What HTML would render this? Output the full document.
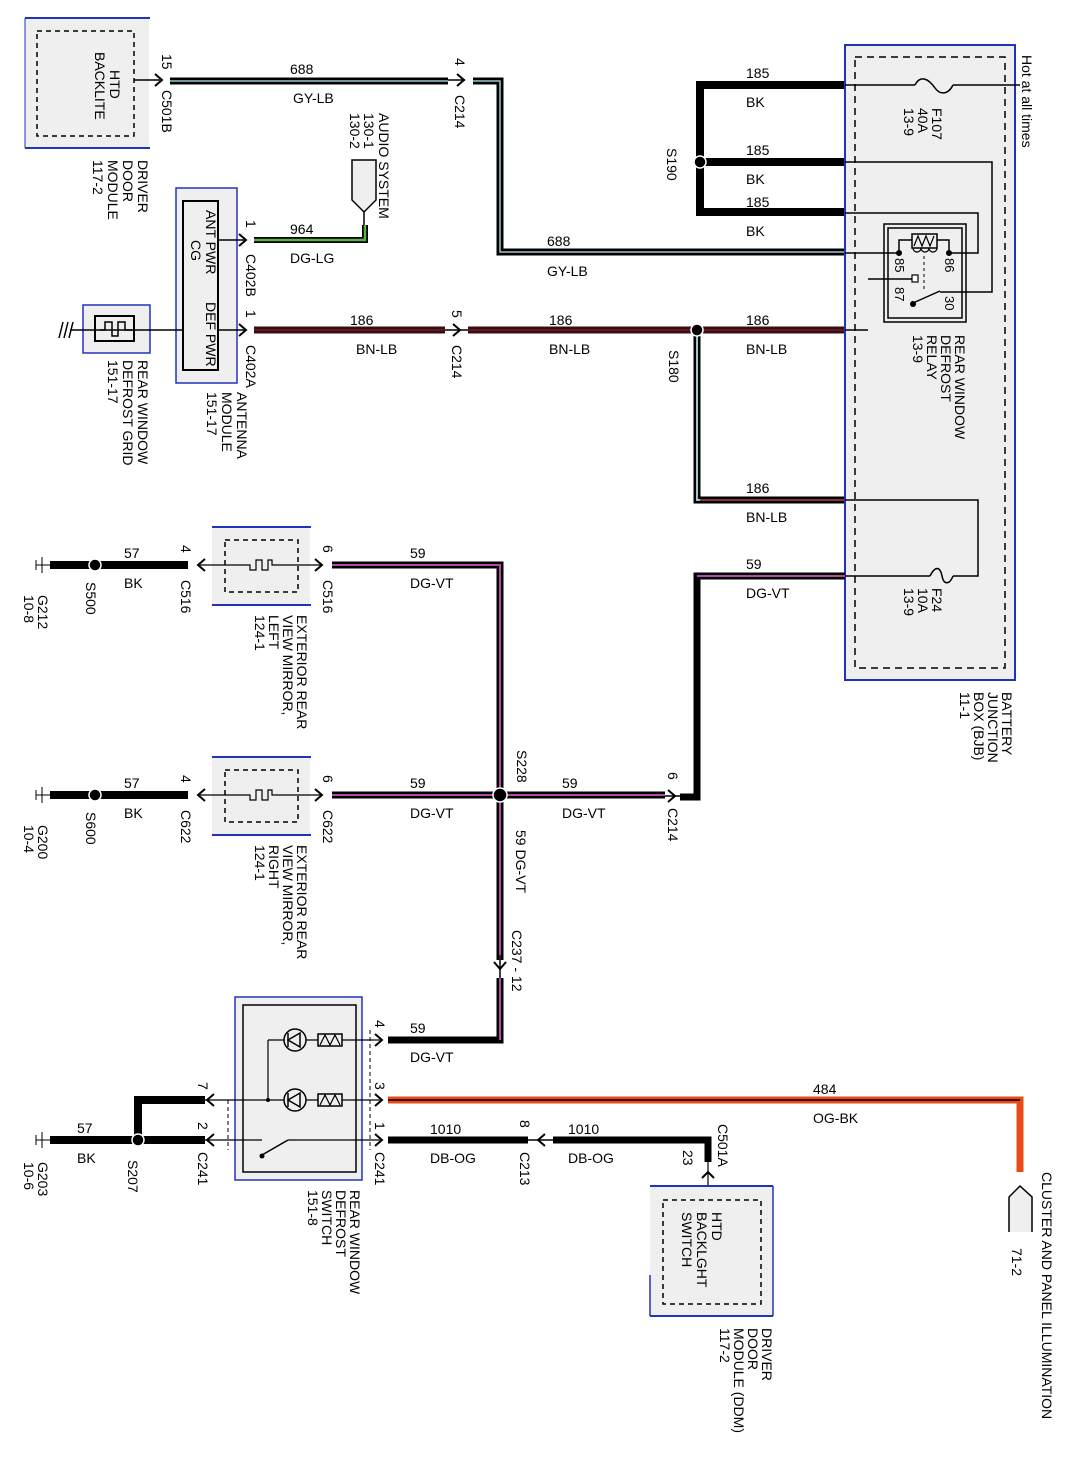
<!DOCTYPE html>
<html><head><meta charset="utf-8"><style>
html,body{margin:0;padding:0;background:#fff;}
svg{display:block;}
text{font-family:"Liberation Sans",Arial,sans-serif;font-size:14px;fill:#000;}
</style></head><body>
<svg width="1068" height="1458" viewBox="0 0 1068 1458" xmlns="http://www.w3.org/2000/svg">
<defs>
<path id="arR" d="M-7,-6 L0,0 L-7,6" fill="none" stroke="#000" stroke-width="2"/>
<path id="arL" d="M7,-6 L0,0 L7,6" fill="none" stroke="#000" stroke-width="2"/>
</defs>

<!-- HTD BACKLITE box -->
<rect x="25" y="18" width="124" height="130" fill="#efeff0"/>
<line x1="25" y1="18" x2="150" y2="18" stroke="#2233bb" stroke-width="2"/>
<line x1="25" y1="148" x2="150" y2="148" stroke="#2233bb" stroke-width="2"/>
<line x1="25" y1="18" x2="25" y2="148" stroke="#2233bb" stroke-width="1"/>
<rect x="37" y="31" width="97" height="105" fill="none" stroke="#000" stroke-width="1.5" stroke-dasharray="5,4"/>
<text transform="translate(110,52) rotate(90)"><tspan x="18" y="0">HTD</tspan><tspan x="0" dy="15">BACKLITE</tspan></text>
<text transform="translate(138,160) rotate(90)"><tspan x="0" y="0">DRIVER</tspan><tspan x="0" dy="15">DOOR</tspan><tspan x="0" dy="15">MODULE</tspan><tspan x="0" dy="15">117-2</tspan></text>

<!-- 688 wire -->
<line x1="134" y1="80" x2="160" y2="80" stroke="#000" stroke-width="1.5"/>
<use href="#arR" x="162" y="80"/>
<text transform="translate(162,54) rotate(90)">15</text>
<text transform="translate(162,90) rotate(90)">C501B</text>
<line x1="170" y1="81" x2="448" y2="81" stroke="#000" stroke-width="7"/>
<line x1="170" y1="81" x2="448" y2="81" stroke="#9cc8d4" stroke-width="1.5"/>
<text x="290" y="74">688</text>
<text x="293" y="103">GY-LB</text>
<line x1="448" y1="80" x2="465" y2="80" stroke="#000" stroke-width="1.5"/>
<use href="#arR" x="464" y="80"/>
<text transform="translate(455,58) rotate(90)">4</text>
<text transform="translate(455,95) rotate(90)">C214</text>
<path d="M473,81 L500,81 L500,252 L845,252" fill="none" stroke="#000" stroke-width="7"/>
<path d="M473,81 L500,81 L500,252 L845,252" fill="none" stroke="#9cc8d4" stroke-width="1.5"/>
<text x="547" y="246">688</text>
<text x="547" y="276">GY-LB</text>

<!-- 185 BK -->
<path d="M845,85 L700,85 L700,212 L845,212" fill="none" stroke="#000" stroke-width="8"/>
<line x1="700" y1="162" x2="845" y2="162" stroke="#000" stroke-width="8"/>
<circle cx="700" cy="162" r="6" fill="#000" stroke="#fff" stroke-width="1.5"/>
<text transform="translate(667,148) rotate(90)">S190</text>
<text x="746" y="78">185</text><text x="746" y="107">BK</text>
<text x="746" y="155">185</text><text x="746" y="184">BK</text>
<text x="746" y="207">185</text><text x="746" y="236">BK</text>

<!-- Antenna module -->
<rect x="176" y="188" width="61" height="195" fill="#efeff0" stroke="#2233bb" stroke-width="1.5"/>
<rect x="183" y="201" width="35" height="169" fill="none" stroke="#000" stroke-width="2"/>
<text transform="translate(206,210) rotate(90)">ANT PWR</text>
<text transform="translate(191,240) rotate(90)">CG</text>
<text transform="translate(206,302) rotate(90)">DEF PWR</text>
<text transform="translate(237,392) rotate(90)"><tspan x="0" y="0">ANTENNA</tspan><tspan x="0" dy="15">MODULE</tspan><tspan x="0" dy="15">151-17</tspan></text>
<line x1="218" y1="240" x2="245" y2="240" stroke="#000" stroke-width="1.5"/>
<use href="#arR" x="246" y="240"/>
<text transform="translate(246,220) rotate(90)">1</text>
<text transform="translate(246,254) rotate(90)">C402B</text>
<path d="M254,240 L365,240 L365,225" fill="none" stroke="#000" stroke-width="6"/>
<path d="M254,240 L365,240 L365,225" fill="none" stroke="#5cb04a" stroke-width="2.5"/>
<text x="290" y="234">964</text>
<text x="290" y="263">DG-LG</text>
<line x1="364" y1="225" x2="364" y2="210" stroke="#000" stroke-width="1.5"/>
<path d="M352,160 L376,160 L376,200 L364,212 L352,200 Z" fill="#efeff0" stroke="#000" stroke-width="1.5"/>
<text transform="translate(379,113) rotate(90)">AUDIO SYSTEM</text>
<text transform="translate(364,113) rotate(90)"><tspan x="0" y="0">130-1</tspan><tspan x="0" dy="14">130-2</tspan></text>

<!-- rear window grid -->
<rect x="83" y="305" width="67" height="48" fill="#efeff0" stroke="#2233bb" stroke-width="1.5"/>
<rect x="95" y="316" width="39" height="25" fill="none" stroke="#000" stroke-width="2"/>
<path d="M100,330 L105,330 L105,322 L112,322 L112,336 L118,336 L118,322 L125,322 L125,330 L132,330" fill="none" stroke="#000" stroke-width="1.5"/>
<line x1="70" y1="330" x2="183" y2="330" stroke="#000" stroke-width="1.5"/>
<line x1="218" y1="330" x2="245" y2="330" stroke="#000" stroke-width="1.5"/>
<path d="M68,322 L64,338 M63,322 L59,338 M73,322 L69,338" stroke="#000" stroke-width="1.5"/>
<text transform="translate(138,360) rotate(90)"><tspan x="0" y="0">REAR WINDOW</tspan><tspan x="0" dy="15">DEFROST GRID</tspan><tspan x="0" dy="15">151-17</tspan></text>

<!-- 186 BN-LB -->
<use href="#arR" x="246" y="330"/>
<text transform="translate(246,310) rotate(90)">1</text>
<text transform="translate(246,345) rotate(90)">C402A</text>
<line x1="254" y1="330" x2="445" y2="330" stroke="#3a0d12" stroke-width="7"/>
<line x1="254" y1="330" x2="445" y2="330" stroke="#5a1a22" stroke-width="2"/>
<text x="350" y="325">186</text><text x="356" y="354">BN-LB</text>
<line x1="445" y1="330" x2="470" y2="330" stroke="#000" stroke-width="1.5"/>
<use href="#arR" x="460" y="330"/>
<text transform="translate(452,310) rotate(90)">5</text>
<text transform="translate(452,345) rotate(90)">C214</text>
<line x1="468" y1="330" x2="845" y2="330" stroke="#3a0d12" stroke-width="7"/>
<line x1="468" y1="330" x2="845" y2="330" stroke="#5a1a22" stroke-width="2"/>
<text x="549" y="325">186</text><text x="549" y="354">BN-LB</text>
<text x="746" y="325">186</text><text x="746" y="354">BN-LB</text>
<path d="M697,330 L697,500 L845,500" fill="none" stroke="#000" stroke-width="7"/>
<path d="M697,336 L697,500 L845,500" fill="none" stroke="#9cc8d4" stroke-width="2"/>
<line x1="700" y1="500" x2="845" y2="500" stroke="#8a3030" stroke-width="2"/>
<circle cx="697" cy="330" r="6" fill="#000" stroke="#fff" stroke-width="1.5"/>
<text transform="translate(669,350) rotate(90)">S180</text>
<text x="746" y="493">186</text><text x="746" y="522">BN-LB</text>

<!-- BJB -->
<rect x="845" y="45" width="170" height="635" fill="#efeff0"/>
<rect x="845" y="45" width="170" height="635" fill="none" stroke="#2233bb" stroke-width="2"/>
<rect x="855" y="57" width="150" height="611" fill="none" stroke="#000" stroke-width="1.5" stroke-dasharray="7,5"/>
<line x1="845" y1="85" x2="915" y2="85" stroke="#000" stroke-width="1.5"/>
<path d="M915,85 C920,75 928,78 935,88 C940,95 948,95 953,85" fill="none" stroke="#000" stroke-width="1.5"/>
<line x1="953" y1="85" x2="1020" y2="85" stroke="#000" stroke-width="1.5"/>
<text transform="translate(1022,55) rotate(90)">Hot at all times</text>
<text transform="translate(932,108) rotate(90)"><tspan x="0" y="0">F107</tspan><tspan x="0" dy="14">40A</tspan><tspan x="0" dy="14">13-9</tspan></text>
<path d="M845,162 L992,162 L992,292 L940,292" fill="none" stroke="#000" stroke-width="1.5"/>
<path d="M845,213 L978,213 L978,253 L949,253" fill="none" stroke="#000" stroke-width="1.5"/>
<line x1="845" y1="253" x2="899" y2="253" stroke="#000" stroke-width="1.5"/>
<rect x="884" y="224" width="82" height="98" fill="none" stroke="#000" stroke-width="1.5"/>
<rect x="888" y="228" width="74" height="90" fill="none" stroke="#000" stroke-width="1.5"/>
<path d="M899,253 L899,240 L912,240 M937,240 L949,240 L949,253" fill="none" stroke="#000" stroke-width="1.5"/>
<rect x="912" y="234" width="25" height="14" fill="none" stroke="#000" stroke-width="1.5"/>
<path d="M914,246 L918,236 L922,246 L926,236 L930,246 L934,236" fill="none" stroke="#000" stroke-width="1.2"/>
<path d="M913,248 a4,4 0 0 0 8,0 a4,4 0 0 0 8,0 a4,4 0 0 0 8,0" fill="none" stroke="#000" stroke-width="1.2"/>
<circle cx="899" cy="253" r="3" fill="#000"/><circle cx="949" cy="253" r="3" fill="#000"/>
<line x1="924" y1="256" x2="924" y2="290" stroke="#000" stroke-width="1" stroke-dasharray="3,3"/>
<line x1="868" y1="279" x2="912" y2="279" stroke="#000" stroke-width="1.5"/>
<rect x="912" y="275" width="6" height="7" fill="#fff" stroke="#000" stroke-width="1.2"/>
<path d="M913,303 L940,291" stroke="#000" stroke-width="1.5"/>
<circle cx="913" cy="304" r="3" fill="#000"/>
<text transform="translate(895,258) rotate(90)" style="font-size:13px">85</text>
<text transform="translate(895,287) rotate(90)" style="font-size:13px">87</text>
<text transform="translate(945,258) rotate(90)" style="font-size:13px">86</text>
<text transform="translate(945,296) rotate(90)" style="font-size:13px">30</text>
<line x1="845" y1="330" x2="868" y2="330" stroke="#000" stroke-width="1.5"/>
<text transform="translate(955,335) rotate(90)"><tspan x="0" y="0">REAR WINDOW</tspan><tspan x="0" dy="14">DEFROST</tspan><tspan x="0" dy="14">RELAY</tspan><tspan x="0" dy="14">13-9</tspan></text>
<path d="M845,500 L978,500 L978,576 L953,576" fill="none" stroke="#000" stroke-width="1.5"/>
<line x1="845" y1="576" x2="930" y2="576" stroke="#000" stroke-width="1.5"/>
<path d="M930,576 C935,566 940,566 942,576 C944,586 950,584 953,576" fill="none" stroke="#000" stroke-width="1.5"/>
<text transform="translate(932,588) rotate(90)"><tspan x="0" y="0">F24</tspan><tspan x="0" dy="14">10A</tspan><tspan x="0" dy="14">13-9</tspan></text>
<text transform="translate(1002,692) rotate(90)"><tspan x="0" y="0">BATTERY</tspan><tspan x="0" dy="14">JUNCTION</tspan><tspan x="0" dy="14">BOX (BJB)</tspan><tspan x="0" dy="14">11-1</tspan></text>

<!-- 59 DG-VT -->
<path d="M845,576 L697,576 L697,797 L680,797" fill="none" stroke="#000" stroke-width="7"/>
<line x1="697" y1="576" x2="845" y2="576" stroke="#b04aa8" stroke-width="2"/>
<text x="746" y="569">59</text><text x="746" y="598">DG-VT</text>
<line x1="665" y1="796" x2="680" y2="796" stroke="#000" stroke-width="1.5"/>
<use href="#arR" x="675" y="796"/>
<text transform="translate(668,772) rotate(90)">6</text>
<text transform="translate(668,808) rotate(90)">C214</text>

<!-- mirrors -->
<g id="mirL">
<rect x="212" y="527" width="98" height="78" fill="#efeff0"/>
<line x1="212" y1="527" x2="311" y2="527" stroke="#2233bb" stroke-width="2"/>
<line x1="212" y1="605" x2="311" y2="605" stroke="#2233bb" stroke-width="2"/>
<rect x="225" y="540" width="73" height="52" fill="none" stroke="#000" stroke-width="1.5" stroke-dasharray="5,4"/>
<path d="M200,565 L250,565 L250,570 L256,570 L256,560 L262,560 L262,570 L268,570 L268,560 L272,560 L272,565 L322,565" fill="none" stroke="#000" stroke-width="1.2"/>
</g>
<use href="#mirL" y="230"/>
<use href="#arL" x="198" y="565"/><use href="#arR" x="322" y="565"/>
<use href="#arL" x="198" y="795"/><use href="#arR" x="322" y="795"/>
<line x1="50" y1="565" x2="188" y2="565" stroke="#000" stroke-width="8"/>
<line x1="50" y1="795" x2="188" y2="795" stroke="#000" stroke-width="8"/>
<circle cx="95" cy="565" r="6" fill="#000" stroke="#fff" stroke-width="1.5"/>
<circle cx="95" cy="795" r="6" fill="#000" stroke="#fff" stroke-width="1.5"/>
<path d="M42,557 L42,573 M36,560 L36,570 M36,565 L50,565" stroke="#000" stroke-width="1"/>
<path d="M42,787 L42,803 M36,790 L36,800 M36,795 L50,795" stroke="#000" stroke-width="1"/>
<text x="124" y="558">57</text><text x="124" y="588">BK</text>
<text x="124" y="788">57</text><text x="124" y="818">BK</text>
<text transform="translate(86,582) rotate(90)">S500</text>
<text transform="translate(86,812) rotate(90)">S600</text>
<text transform="translate(38,595) rotate(90)"><tspan x="0" y="0">G212</tspan><tspan x="0" dy="14">10-8</tspan></text>
<text transform="translate(38,825) rotate(90)"><tspan x="0" y="0">G200</tspan><tspan x="0" dy="14">10-4</tspan></text>
<text transform="translate(181,545) rotate(90)">4</text><text transform="translate(181,580) rotate(90)">C516</text>
<text transform="translate(181,775) rotate(90)">4</text><text transform="translate(181,810) rotate(90)">C622</text>
<text transform="translate(323,545) rotate(90)">6</text><text transform="translate(323,580) rotate(90)">C516</text>
<text transform="translate(323,775) rotate(90)">6</text><text transform="translate(323,810) rotate(90)">C622</text>
<text transform="translate(297,615) rotate(90)"><tspan x="0" y="0">EXTERIOR REAR</tspan><tspan x="0" dy="14">VIEW MIRROR,</tspan><tspan x="0" dy="14">LEFT</tspan><tspan x="0" dy="14">124-1</tspan></text>
<text transform="translate(297,845) rotate(90)"><tspan x="0" y="0">EXTERIOR REAR</tspan><tspan x="0" dy="14">VIEW MIRROR,</tspan><tspan x="0" dy="14">RIGHT</tspan><tspan x="0" dy="14">124-1</tspan></text>

<path d="M332,565 L500,565 L500,960" fill="none" stroke="#000" stroke-width="7"/>
<path d="M332,565 L500,565 L500,960" fill="none" stroke="#b04aa8" stroke-width="2"/>
<line x1="332" y1="795" x2="665" y2="795" stroke="#000" stroke-width="7"/>
<line x1="332" y1="795" x2="665" y2="795" stroke="#b04aa8" stroke-width="2"/>
<circle cx="500" cy="795" r="7" fill="#000" stroke="#fff" stroke-width="1.5"/>
<text x="410" y="558">59</text><text x="410" y="588">DG-VT</text>
<text x="410" y="788">59</text><text x="410" y="818">DG-VT</text>
<text x="562" y="788">59</text><text x="562" y="818">DG-VT</text>
<text transform="translate(517,750) rotate(90)">S228</text>
<text transform="translate(516,830) rotate(90)">59  DG-VT</text>
<line x1="500" y1="955" x2="500" y2="985" stroke="#000" stroke-width="1.5"/>
<path d="M494,962 L500,969 L506,962" fill="none" stroke="#000" stroke-width="2"/>
<text transform="translate(512,930) rotate(90)">C237 - 12</text>
<path d="M500,978 L500,1040 L388,1040" fill="none" stroke="#000" stroke-width="7"/>
<path d="M500,978 L500,1040" fill="none" stroke="#b04aa8" stroke-width="2"/>
<text x="410" y="1033">59</text><text x="410" y="1062">DG-VT</text>

<!-- switch -->
<rect x="235" y="997" width="127" height="183" fill="#efeff0" stroke="#2233bb" stroke-width="1.5"/>
<rect x="243" y="1005" width="113" height="167" fill="none" stroke="#000" stroke-width="1.5"/>
<line x1="370" y1="1030" x2="370" y2="1150" stroke="#000" stroke-width="1" stroke-dasharray="4,3"/>
<line x1="228" y1="1100" x2="228" y2="1150" stroke="#000" stroke-width="1" stroke-dasharray="4,3"/>
<line x1="268" y1="1040" x2="380" y2="1040" stroke="#000" stroke-width="1.2"/>
<line x1="205" y1="1100" x2="380" y2="1100" stroke="#000" stroke-width="1.2"/>
<line x1="268" y1="1040" x2="268" y2="1100" stroke="#000" stroke-width="1.2"/>
<circle cx="268" cy="1100" r="2" fill="#000"/>
<circle cx="295" cy="1040" r="11" fill="#efeff0" stroke="#000" stroke-width="1.5"/>
<path d="M288,1040 L300,1033 L300,1047 Z M288,1033 L288,1047" fill="none" stroke="#000" stroke-width="1.5"/>
<circle cx="295" cy="1100" r="11" fill="#efeff0" stroke="#000" stroke-width="1.5"/>
<path d="M288,1100 L300,1093 L300,1107 Z M288,1093 L288,1107" fill="none" stroke="#000" stroke-width="1.5"/>
<rect x="318" y="1034" width="24" height="12" fill="#efeff0" stroke="#000" stroke-width="1.5"/>
<path d="M320,1045 L325,1035 L330,1045 L335,1035 L340,1045" fill="none" stroke="#000" stroke-width="1.2"/>
<rect x="318" y="1094" width="24" height="12" fill="#efeff0" stroke="#000" stroke-width="1.5"/>
<path d="M320,1105 L325,1095 L330,1105 L335,1095 L340,1105" fill="none" stroke="#000" stroke-width="1.2"/>
<line x1="205" y1="1140" x2="262" y2="1140" stroke="#000" stroke-width="1.2"/>
<line x1="288" y1="1140" x2="380" y2="1140" stroke="#000" stroke-width="1.2"/>
<path d="M262,1155 L288,1140" stroke="#000" stroke-width="1.5"/>
<circle cx="262" cy="1156" r="2.5" fill="#000"/>
<use href="#arL" x="207" y="1100"/><use href="#arL" x="207" y="1140"/>
<use href="#arR" x="382" y="1040"/><use href="#arR" x="382" y="1100"/><use href="#arR" x="382" y="1140"/>
<text transform="translate(375,1020) rotate(90)">4</text>
<text transform="translate(375,1082) rotate(90)">3</text>
<text transform="translate(375,1122) rotate(90)">1</text>
<text transform="translate(375,1152) rotate(90)">C241</text>
<text transform="translate(198,1082) rotate(90)">7</text>
<text transform="translate(198,1122) rotate(90)">2</text>
<text transform="translate(198,1152) rotate(90)">C241</text>
<text transform="translate(350,1190) rotate(90)"><tspan x="0" y="0">REAR WINDOW</tspan><tspan x="0" dy="14">DEFROST</tspan><tspan x="0" dy="14">SWITCH</tspan><tspan x="0" dy="14">151-8</tspan></text>

<path d="M205,1100 L138,1100 L138,1140" fill="none" stroke="#000" stroke-width="8"/>
<line x1="50" y1="1140" x2="205" y2="1140" stroke="#000" stroke-width="8"/>
<circle cx="138" cy="1140" r="6" fill="#000" stroke="#fff" stroke-width="1.5"/>
<path d="M42,1132 L42,1148 M36,1135 L36,1145 M36,1140 L50,1140" stroke="#000" stroke-width="1"/>
<text x="77" y="1133">57</text><text x="77" y="1163">BK</text>
<text transform="translate(128,1160) rotate(90)">S207</text>
<text transform="translate(38,1162) rotate(90)"><tspan x="0" y="0">G203</tspan><tspan x="0" dy="14">10-6</tspan></text>

<!-- 484 OG-BK -->
<path d="M388,1100 L1020,1100 L1020,1172" fill="none" stroke="#e84a18" stroke-width="7"/>
<line x1="388" y1="1100" x2="1020" y2="1100" stroke="#000" stroke-width="1.5"/>
<text x="813" y="1094">484</text><text x="813" y="1123">OG-BK</text>
<path d="M1009,1232 L1009,1197 L1020,1186 L1032,1197 L1032,1232" fill="#efeff0" stroke="#000" stroke-width="1.5"/>
<text transform="translate(1042,1172) rotate(90)">CLUSTER AND PANEL ILLUMINATION</text>
<text transform="translate(1012,1248) rotate(90)">71-2</text>

<!-- 1010 DB-OG -->
<line x1="388" y1="1140" x2="528" y2="1140" stroke="#000" stroke-width="7"/>
<text x="430" y="1134">1010</text><text x="430" y="1163">DB-OG</text>
<line x1="528" y1="1140" x2="553" y2="1140" stroke="#000" stroke-width="1.5"/>
<use href="#arL" x="538" y="1140"/>
<text transform="translate(520,1120) rotate(90)">8</text>
<text transform="translate(520,1152) rotate(90)">C213</text>
<path d="M553,1140 L708,1140 L708,1162" fill="none" stroke="#000" stroke-width="7"/>
<text x="568" y="1134">1010</text><text x="568" y="1163">DB-OG</text>
<line x1="708" y1="1162" x2="708" y2="1200" stroke="#000" stroke-width="1.2"/>
<path d="M702,1178 L708,1172 L714,1178" fill="none" stroke="#000" stroke-width="2"/>
<text transform="translate(718,1124) rotate(90)">C501A</text>
<text transform="translate(683,1150) rotate(90)">23</text>
<rect x="650" y="1186" width="123" height="130" fill="#efeff0"/>
<line x1="650" y1="1186" x2="773" y2="1186" stroke="#2233bb" stroke-width="2"/>
<line x1="650" y1="1316" x2="773" y2="1316" stroke="#2233bb" stroke-width="2"/>
<line x1="773" y1="1186" x2="773" y2="1316" stroke="#2233bb" stroke-width="1.5"/>
<line x1="650" y1="1275" x2="650" y2="1316" stroke="#2233bb" stroke-width="1.5"/>
<rect x="663" y="1200" width="98" height="104" fill="none" stroke="#000" stroke-width="1.5" stroke-dasharray="5,4"/>
<text transform="translate(712,1212) rotate(90)"><tspan x="0" y="0">HTD</tspan><tspan x="0" dy="15">BACKLGHT</tspan><tspan x="0" dy="15">SWITCH</tspan></text>
<text transform="translate(762,1328) rotate(90)"><tspan x="0" y="0">DRIVER</tspan><tspan x="0" dy="14">DOOR</tspan><tspan x="0" dy="14">MODULE (DDM)</tspan><tspan x="0" dy="14">117-2</tspan></text>
</svg>
</body></html>
